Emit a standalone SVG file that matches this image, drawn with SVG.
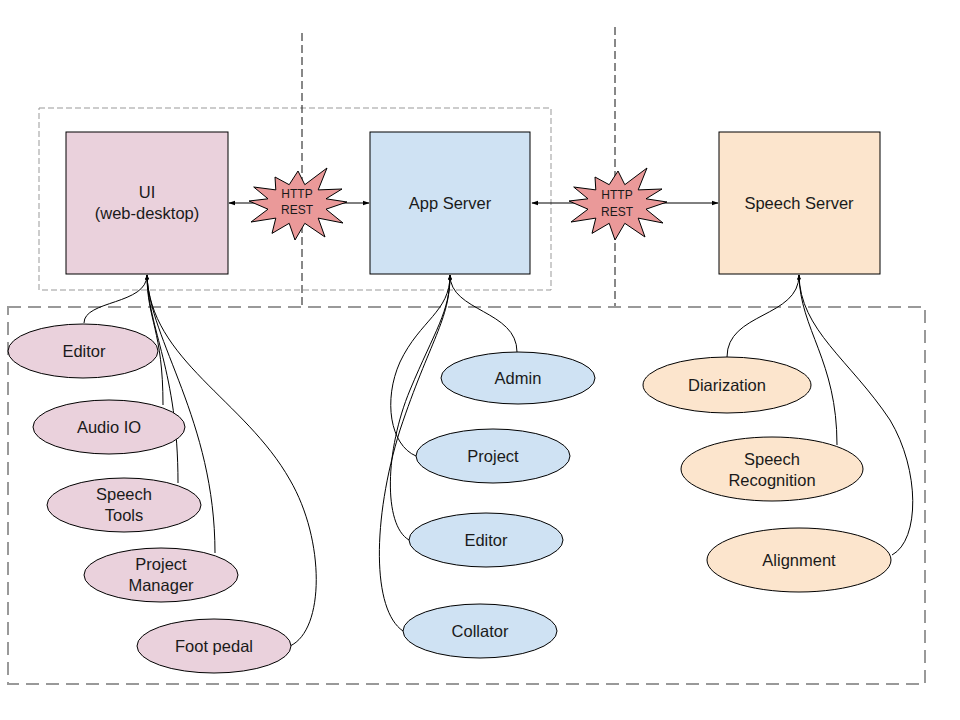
<svg xmlns="http://www.w3.org/2000/svg" xmlns:xlink="http://www.w3.org/1999/xlink" width="960" height="720" viewBox="0 0 960 720">
<style>
text{font-family:"Liberation Sans",Arial,sans-serif;font-size:16.5px;fill:#1a1a1a;text-anchor:middle}
.small{font-size:12px}
.box{stroke:#000;stroke-width:1}
.pink{fill:#ead1dc}
.blue{fill:#cfe2f3}
.orange{fill:#fce5cd}
.ell{stroke:#000;stroke-width:1}
.con{fill:none;stroke:#000;stroke-width:1}
.burst{fill:#ea9999;stroke:#000;stroke-width:1}
</style>
<defs>
<marker id="ah" viewBox="0 0 10 10" refX="9" refY="5" markerWidth="7" markerHeight="7" orient="auto-start-reverse" markerUnits="userSpaceOnUse"><path d="M0,1.5 L10,5 L0,8.5 z" fill="#000"/></marker>
<marker id="ahs" viewBox="0 0 10 10" refX="9" refY="5" markerWidth="5" markerHeight="5" orient="auto" markerUnits="userSpaceOnUse"><path d="M0,1.5 L10,5 L0,8.5 z" fill="#000"/></marker>
<polygon id="burst" points="50,-2 29,5.2 46,19 21.2,14.1 28,33 7.8,19.3 -2,36 -7.8,19.3 -25,29.4 -21.2,14.1 -46,18 -29,5.2 -48,-3 -29,-5.2 -43.3,-17 -21.2,-14.1 -22,-27 -7.8,-19.3 1,-33 7.8,-19.3 30,-36 21.2,-14.1 45,-15 29,-5.2"/>
</defs>
<rect width="960" height="720" fill="#fff"/>
<g id="frames">
<rect x="39" y="108" width="512" height="182" fill="none" stroke="#999" stroke-width="1" stroke-dasharray="6 3"/>
<line x1="302" y1="33" x2="302" y2="308" stroke="#111" stroke-width="1" stroke-dasharray="8 4"/>
<line x1="615" y1="27" x2="615" y2="308" stroke="#111" stroke-width="1" stroke-dasharray="8 4"/>
<rect x="8" y="307" width="917" height="377" fill="none" stroke="#999" stroke-width="2" stroke-dasharray="13 7"/>
</g>
<g id="ui"><rect class="box pink" x="66" y="132" width="162" height="142"/><text x="147" y="198">UI</text><text x="147" y="219">(web-desktop)</text></g>
<g id="app-server"><rect class="box blue" x="370" y="132" width="160" height="142"/><text x="450" y="209">App Server</text></g>
<g id="speech-server"><rect class="box orange" x="719" y="132" width="161" height="142"/><text x="799" y="209">Speech Server</text></g>
<g id="connectors">
<path class="con" d="M229,203 H369" marker-start="url(#ah)" marker-end="url(#ah)"/>
<path class="con" d="M532,203 H718" marker-start="url(#ah)" marker-end="url(#ah)"/>
<path class="con" d="M84,323 C84,300 147,305 147,275" marker-end="url(#ahs)"/>
<path class="con" d="M163,405 C163,330 147,320 147,275" marker-end="url(#ahs)"/>
<path class="con" d="M178,483 C178,370 148,330 147,275" marker-end="url(#ahs)"/>
<path class="con" d="M215,553 C215,420 149,340 147,275" marker-end="url(#ahs)"/>
<path class="con" d="M290,646 C325,630 325,540 290,480 C245,400 150,360 147,275" marker-end="url(#ahs)"/>
<path class="con" d="M517,352 C517,310 450,312 450,275" marker-end="url(#ahs)"/>
<path class="con" d="M416,456 C390,445 383,400 400,362 C420,320 450,312 450,275" marker-end="url(#ahs)"/>
<path class="con" d="M409,540 C383,525 385,450 410,390 C435,330 450,312 450,275" marker-end="url(#ahs)"/>
<path class="con" d="M403,631 C372,610 372,520 400,430 C430,340 450,320 450,275" marker-end="url(#ahs)"/>
<path class="con" d="M727,357 C727,312 799,318 799,275" marker-end="url(#ahs)"/>
<path class="con" d="M837,445 C837,360 800,330 799,275" marker-end="url(#ahs)"/>
<path class="con" d="M892,555 C920,540 920,470 890,420 C850,360 800,330 799,275" marker-end="url(#ahs)"/>
</g>
<g id="http-rest-1"><use xlink:href="#burst" href="#burst" class="burst" x="297" y="204"/><text class="small" x="297" y="198">HTTP</text><text class="small" x="297" y="214">REST</text></g>
<g id="http-rest-2"><use xlink:href="#burst" href="#burst" class="burst" x="617" y="204"/><text class="small" x="617" y="199">HTTP</text><text class="small" x="617" y="216">REST</text></g>
<g id="ui-editor"><ellipse class="ell pink" cx="83" cy="351" rx="75" ry="27"/><text x="84" y="357">Editor</text></g>
<g id="audio-io"><ellipse class="ell pink" cx="109" cy="427" rx="76" ry="27"/><text x="109" y="433">Audio IO</text></g>
<g id="speech-tools"><ellipse class="ell pink" cx="124" cy="505" rx="77" ry="27"/><text x="124" y="500">Speech</text><text x="124" y="521">Tools</text></g>
<g id="project-manager"><ellipse class="ell pink" cx="161" cy="575" rx="77" ry="27"/><text x="161" y="570">Project</text><text x="161" y="591">Manager</text></g>
<g id="foot-pedal"><ellipse class="ell pink" cx="214" cy="646" rx="77" ry="27"/><text x="214" y="652">Foot pedal</text></g>
<g id="admin"><ellipse class="ell blue" cx="518" cy="378" rx="77" ry="26"/><text x="518" y="384">Admin</text></g>
<g id="project"><ellipse class="ell blue" cx="493" cy="456" rx="77" ry="27"/><text x="493" y="462">Project</text></g>
<g id="app-editor"><ellipse class="ell blue" cx="486" cy="540" rx="77" ry="27"/><text x="486" y="546">Editor</text></g>
<g id="collator"><ellipse class="ell blue" cx="480" cy="631" rx="77" ry="27"/><text x="480" y="637">Collator</text></g>
<g id="diarization"><ellipse class="ell orange" cx="727" cy="385" rx="84" ry="28"/><text x="727" y="391">Diarization</text></g>
<g id="speech-recognition"><ellipse class="ell orange" cx="772" cy="469" rx="91" ry="32"/><text x="772" y="465">Speech</text><text x="772" y="486">Recognition</text></g>
<g id="alignment"><ellipse class="ell orange" cx="799" cy="560" rx="92" ry="32"/><text x="799" y="566">Alignment</text></g>
</svg>
